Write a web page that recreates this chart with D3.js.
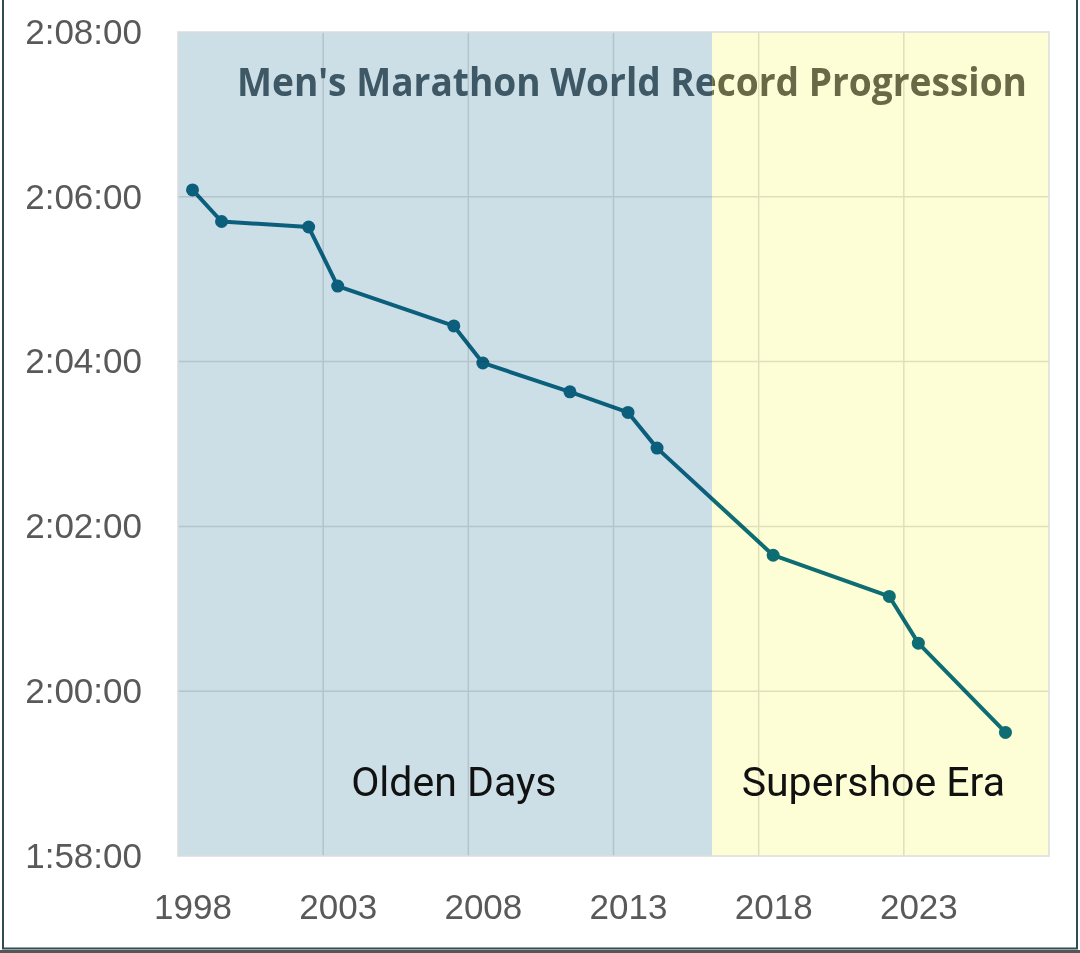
<!DOCTYPE html>
<html>
<head>
<meta charset="utf-8">
<script src="https://cdn.jsdelivr.net/npm/d3@7"></script>
<style>
  html, body { margin: 0; padding: 0; background: #fff; }
  svg { display: block; }
</style>
</head>
<body>
<div id="content"><svg width="1080" height="953"></svg></div>
<script>
// record years and times (h:mm:ss)
var years = [1998, 1999, 2002, 2003, 2007, 2008, 2011, 2013, 2014, 2018, 2022, 2023, 2026];
var times = ["2:06:05", "2:05:42", "2:05:38", "2:04:55", "2:04:26", "2:03:59", "2:03:38",
             "2:03:23", "2:02:57", "2:01:39", "2:01:09", "2:00:35", "1:59:30"];

var yTickLabels = ["1:58:00", "2:00:00", "2:02:00", "2:04:00", "2:06:00", "2:08:00"];
var xTickYears = [1998, 2003, 2008, 2013, 2018, 2023];
var xGridYears = [2002.5, 2007.5, 2012.5, 2017.5, 2022.5];

var eras = [
    {name: "Olden Days", start: 1997.5, end: 2015.9, labelAt: 2007.0, fill: "#ccdfe7"},
    {name: "Supershoe Era", start: 2015.9, end: 2027.5, labelAt: 2021.45, fill: "#fefed6"}
];
var titleText = "Men's Marathon World Record Progression";

function toSec(s) {
    var p = s.split(":").map(Number);
    return p[0] * 3600 + p[1] * 60 + p[2];
}

var data = years.map(function (y, i) { return {year: y, sec: toSec(times[i])}; });

var svg = d3.select("#content").select("svg");
var plot = {left: 178, right: 1049, top: 32, bottom: 856};

var xScale = d3.scaleLinear().domain([1997.5, 2027.5]).range([plot.left, plot.right]);
var yScale = d3.scaleLinear()
    .domain([toSec(yTickLabels[0]), toSec(yTickLabels[yTickLabels.length - 1])])
    .range([plot.bottom, plot.top]);

// era shading
svg.append("g").selectAll("rect")
    .data(eras)
    .enter().append("rect")
    .attr("x", function (d) { return xScale(d.start); })
    .attr("y", plot.top)
    .attr("width", function (d) { return xScale(d.end) - xScale(d.start); })
    .attr("height", plot.bottom - plot.top)
    .style("fill", function (d) { return d.fill; });

// gridlines, blended into the shading
var grid = svg.append("g").style("mix-blend-mode", "multiply");
grid.selectAll("line.v")
    .data(xGridYears)
    .enter().append("line")
    .attr("class", "v")
    .attr("x1", function (d) { return xScale(d); })
    .attr("x2", function (d) { return xScale(d); })
    .attr("y1", plot.top).attr("y2", plot.bottom)
    .style("stroke", "#e0e0e0").style("stroke-width", 1.5);
grid.selectAll("line.h")
    .data(yTickLabels.slice(1, -1))
    .enter().append("line")
    .attr("class", "h")
    .attr("x1", plot.left).attr("x2", plot.right)
    .attr("y1", function (d) { return yScale(toSec(d)); })
    .attr("y2", function (d) { return yScale(toSec(d)); })
    .style("stroke", "#e0e0e0").style("stroke-width", 1.5);

// plot border
svg.append("rect")
    .attr("x", plot.left).attr("y", plot.top)
    .attr("width", plot.right - plot.left).attr("height", plot.bottom - plot.top)
    .style("fill", "none").style("stroke", "#dcdcdc").style("stroke-width", 1.5);

// title, tinted per era
var defs = svg.append("defs");
var titleColors = ["#3e5865", "#6a6947"];
eras.forEach(function (e, i) {
    defs.append("clipPath").attr("id", "clip" + i)
        .append("rect")
        .attr("x", xScale(e.start)).attr("y", 0)
        .attr("width", xScale(e.end) - xScale(e.start)).attr("height", 953);
    svg.append("text")
        .attr("clip-path", "url(#clip" + i + ")")
        .attr("x", 632).attr("y", 96)
        .attr("text-anchor", "middle")
        .attr("textLength", 790)
        .attr("lengthAdjust", "spacingAndGlyphs")
        .style("font-family", "'Open Sans', sans-serif")
        .style("font-weight", 700)
        .style("font-size", "39px")
        .style("fill", titleColors[i])
        .text(titleText);
});

// era labels
svg.append("g").selectAll("text")
    .data(eras)
    .enter().append("text")
    .attr("x", function (d) { return xScale(d.labelAt); })
    .attr("y", 796)
    .attr("text-anchor", "middle")
    .style("font-family", "Roboto, sans-serif")
    .style("font-size", "41px")
    .style("fill", "#111")
    .text(function (d) { return d.name; });

// record line and markers
var line = d3.line()
    .x(function (d) { return xScale(d.year); })
    .y(function (d) { return yScale(d.sec); });

var series = svg.append("g").style("mix-blend-mode", "multiply");
series.append("path")
    .datum(data)
    .attr("d", line)
    .style("fill", "none")
    .style("stroke", "#0e6d89")
    .style("stroke-width", 4)
    .style("stroke-linejoin", "round");
series.selectAll("circle")
    .data(data)
    .enter().append("circle")
    .attr("cx", function (d) { return xScale(d.year); })
    .attr("cy", function (d) { return yScale(d.sec); })
    .attr("r", 6.5)
    .style("fill", "#0e6d89");

// axes
var yAxis = d3.axisLeft(yScale)
    .tickValues(yTickLabels.map(toSec))
    .tickFormat(function (d, i) { return yTickLabels[i]; })
    .tickSize(0).tickPadding(36);
var gy = svg.append("g").attr("transform", "translate(" + plot.left + ",0)").call(yAxis);

var xAxis = d3.axisBottom(xScale)
    .tickValues(xTickYears)
    .tickFormat(d3.format("d"))
    .tickSize(0).tickPadding(38);
var gx = svg.append("g").attr("transform", "translate(0," + plot.bottom + ")").call(xAxis);

[gy, gx].forEach(function (g) {
    g.select(".domain").remove();
    g.selectAll("text")
        .style("font-family", "'Liberation Sans', Arial, sans-serif")
        .style("font-size", "35px")
        .style("fill", "#595959");
});

// outer frame
svg.append("path")
    .attr("d", "M3,0V948.5H1077V0")
    .style("fill", "none").style("stroke", "#2f4b56").style("stroke-width", 2);
svg.append("rect")
    .attr("x", 0).attr("y", 950).attr("width", 1080).attr("height", 3)
    .style("fill", "#555");
</script>
</body>
</html>
